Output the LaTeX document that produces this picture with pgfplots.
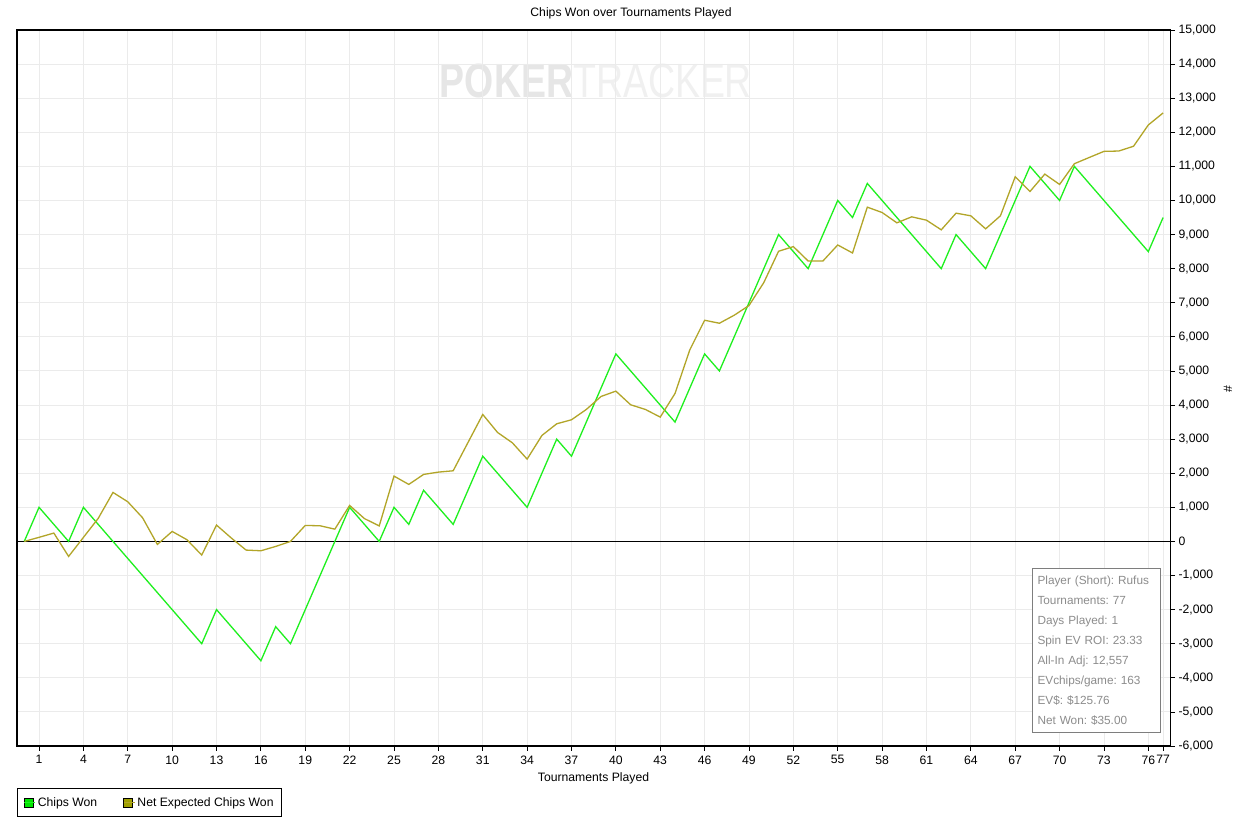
\documentclass[border=0pt]{standalone}
\usepackage{fontspec}
\setmainfont{Liberation Sans}
\usepackage{graphicx}
\usepackage{pgfplots}
\pgfplotsset{compat=1.18}
\definecolor{cgreen}{RGB}{30,240,30}
\definecolor{cgreenleg}{RGB}{0,230,0}
\definecolor{colive}{RGB}{178,165,40}
\definecolor{colleg}{RGB}{160,160,0}
\definecolor{cgrid}{RGB}{235,235,235}
\definecolor{cstat}{RGB}{140,140,140}
\definecolor{cwm}{RGB}{230,230,230}
\definecolor{cwmb}{RGB}{240,240,240}
\frenchspacing

\pgfplotstableread{
n v
0 0
1 1000
3 0
4 1000
12 -3000
13 -2000
16 -3500
17 -2500
18 -3000
22 1000
24 0
25 1000
26 500
27 1500
29 500
31 2500
34 1000
36 3000
37 2500
40 5500
44 3500
46 5500
47 5000
51 9000
53 8000
55 10000
56 9500
57 10500
62 8000
63 9000
65 8000
68 11000
70 10000
71 11000
76 8500
77 9500
}\chipswon

\pgfplotstableread{
n v
0 0
1 120
2 245
3 -440
4 118
5 675
6 1437
7 1163
8 694
9 -88
10 293
11 50
12 -400
13 479
14 100
15 -254
16 -274
17 -147
18 0
19 469
20 459
21 360
22 1056
23 670
24 455
25 1916
26 1672
27 1965
28 2033
29 2072
30 2900
31 3724
32 3196
33 2893
34 2414
35 3108
36 3450
37 3568
38 3870
39 4252
40 4408
41 4008
42 3870
43 3646
44 4340
45 5620
46 6487
47 6399
48 6634
49 6918
50 7590
51 8510
52 8647
53 8225
54 8225
55 8695
56 8460
57 9804
58 9647
59 9344
60 9520
61 9422
62 9139
63 9628
64 9550
65 9168
66 9550
67 10695
68 10264
69 10773
70 10470
71 11078
72 11260
73 11440
74 11450
75 11590
76 12215
77 12567
}\evchips

\begin{document}
\begin{tikzpicture}
\path[use as bounding box, fill=white] (0,0) rectangle (1241pt,821pt);
% watermark
\node[text=cwm, font=\fontsize{48}{48}\selectfont, anchor=center, inner sep=0pt] at (596pt,740pt)
  {\scalebox{0.78}[1]{\textbf{POKER}\textcolor{cwmb}{TRACKER}}};
\begin{axis}[
  at={(17pt,75pt)}, anchor=south west,
  scale only axis, width=1153pt, height=716pt,
  xmin=-0.49, xmax=77.47, ymin=-6000, ymax=15000,
  xtick={1,4,...,76,77},
  ytick={-6000,-5000,...,15000},
  scaled y ticks=false, scaled x ticks=false,
  xtick pos=lower, ytick pos=right, yticklabel pos=right,
  tick align=outside, major tick length=5pt,
  tick style={black, line width=0.8pt},
  axis line style={black, line width=1.1pt},
  grid=major, grid style={cgrid, line width=0.9pt},
  tick label style={font=\fontsize{12.2}{14}\selectfont},
  /pgf/number format/assume math mode=true,
  /pgf/number format/1000 sep={,},
  xticklabel style={yshift=-1pt},
  yticklabel style={xshift=0pt},
  label style={font=\fontsize{12.2}{14}\selectfont},
  xlabel={Tournaments Played},
  xlabel style={at={(axis description cs:0.5,0)}, anchor=center, yshift=-32pt},
  legend columns=2,
  legend style={at={(axis description cs:0,-0.0587)}, anchor=north west,
    draw=black, line width=0.9pt, font=\fontsize{12.2}{14}\selectfont,
    inner xsep=6pt, inner ysep=7pt,
    /tikz/every even column/.append style={column sep=24pt}},
  legend cell align=left,
  clip=true,
]
\draw[black, line width=1pt] (axis cs:-0.49,0) -- (axis cs:77.47,0);
\addplot[cgreen, line width=1.3pt,
  legend image code/.code={\draw[draw=black, line width=0.8pt, fill=cgreenleg] (0pt,-4.5pt) rectangle (9pt,4.5pt); \path (0pt,0pt) -- (11pt,0pt);}]
  table[x=n, y=v] {\chipswon};
\addlegendentry{Chips Won}
\addplot[colive, line width=1.3pt,
  legend image code/.code={\draw[draw=black, line width=0.8pt, fill=colleg] (0pt,-4.5pt) rectangle (9pt,4.5pt); \path (0pt,0pt) -- (11pt,0pt);}]
  table[x=n, y=v] {\evchips};
\addlegendentry{Net Expected Chips Won}
\end{axis}
% title and y label
\node[font=\fontsize{12.2}{14}\selectfont, anchor=center] at (631pt,808pt) {Chips Won over Tournaments Played};
\node[font=\fontsize{12.2}{14}\selectfont, anchor=center, rotate=90] at (1228pt,432pt) {\#};
% stats box
\node[draw=cstat!90!black, line width=1pt, fill=white, text=cstat, anchor=north west,
  inner xsep=5pt, inner ysep=7pt, text width=118pt, align=left,
  font=\fontsize{11.8}{20}\selectfont] at (1032pt,252.7pt)
  {Player (Short): Rufus\\Tournaments: 77\\Days Played: 1\\Spin EV ROI: 23.33\\All-In Adj: 12,557\\EVchips/game: 163\\EV\$: \$125.76\\Net Won: \$35.00};
\end{tikzpicture}
\end{document}
